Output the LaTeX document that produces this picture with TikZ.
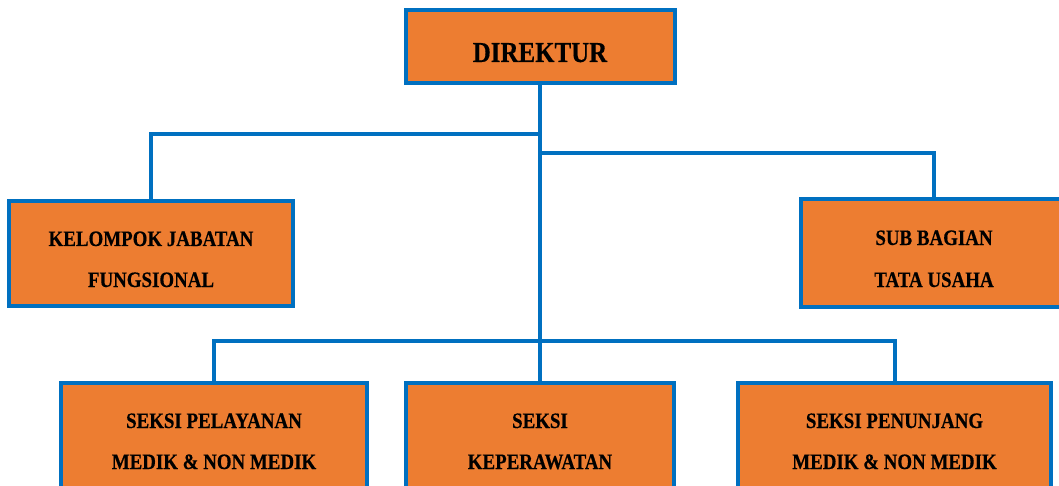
\documentclass[tikz,border=0pt]{standalone}
\usepackage{fontspec}
\setmainfont{Liberation Serif}[FakeStretch=0.86, FakeBold=0.4]
\definecolor{boxorange}{HTML}{ED7D31}
\definecolor{boxblue}{HTML}{0070C0}
\begin{document}
\begin{tikzpicture}[x=1pt,y=-1pt,
  unit/.style={draw=boxblue, fill=boxorange, line width=4pt, rectangle, inner sep=0pt},
  lbl/.style={font=\bfseries\fontsize{22}{25}\selectfont, inner sep=0pt, anchor=base, text=black},
  big/.style={font=\bfseries\fontsize{29}{32}\selectfont, inner sep=0pt, anchor=base, text=black},
  link/.style={draw=boxblue, line width=4pt}]
\useasboundingbox (0,0) rectangle (1059,486);
\clip (0,0) rectangle (1059,486);
% boxes
\node[unit, minimum width=269pt, minimum height=73pt] (dir) at (540,46.5) {};
\node[unit, minimum width=284pt, minimum height=105pt] (kel) at (151,253.5) {};
\node[unit, minimum width=266pt, minimum height=108pt] (sub) at (934,253) {};
\node[unit, minimum width=306pt, minimum height=117pt] (b1) at (214,441.5) {};
\node[unit, minimum width=268pt, minimum height=117pt] (b2) at (540,441.5) {};
\node[unit, minimum width=313pt, minimum height=117pt] (b3) at (894.5,441.5) {};
% texts
\node[big] (dirt) at (540,62) {DIREKTUR};
\node[lbl] (kelt1) at (151,246) {KELOMPOK JABATAN};
\node[lbl] (kelt2) at (151,287) {FUNGSIONAL};
\node[lbl] (subt1) at (934,245) {SUB BAGIAN};
\node[lbl] (subt2) at (934,287) {TATA USAHA};
\node[lbl] (b1t1) at (214,428) {SEKSI PELAYANAN};
\node[lbl] (b1t2) at (214,469) {MEDIK \& NON MEDIK};
\node[lbl] (b2t1) at (540,428) {SEKSI};
\node[lbl] (b2t2) at (540,469) {KEPERAWATAN};
\node[lbl] (b3t1) at (894.5,428) {SEKSI PENUNJANG};
\node[lbl] (b3t2) at (894.5,469) {MEDIK \& NON MEDIK};
% junctions
\coordinate (j1) at (540,134);
\coordinate (j2) at (540,153);
\coordinate (j3) at (540,341);
% connectors
\draw[link] (dir.south) -- (b2.north);
\draw[link] (j1) -| (kel.north);
\draw[link] (j2) -| (sub.north);
\draw[link] (b1.north) |- (j3) -| (b3.north);
\end{tikzpicture}
\end{document}
